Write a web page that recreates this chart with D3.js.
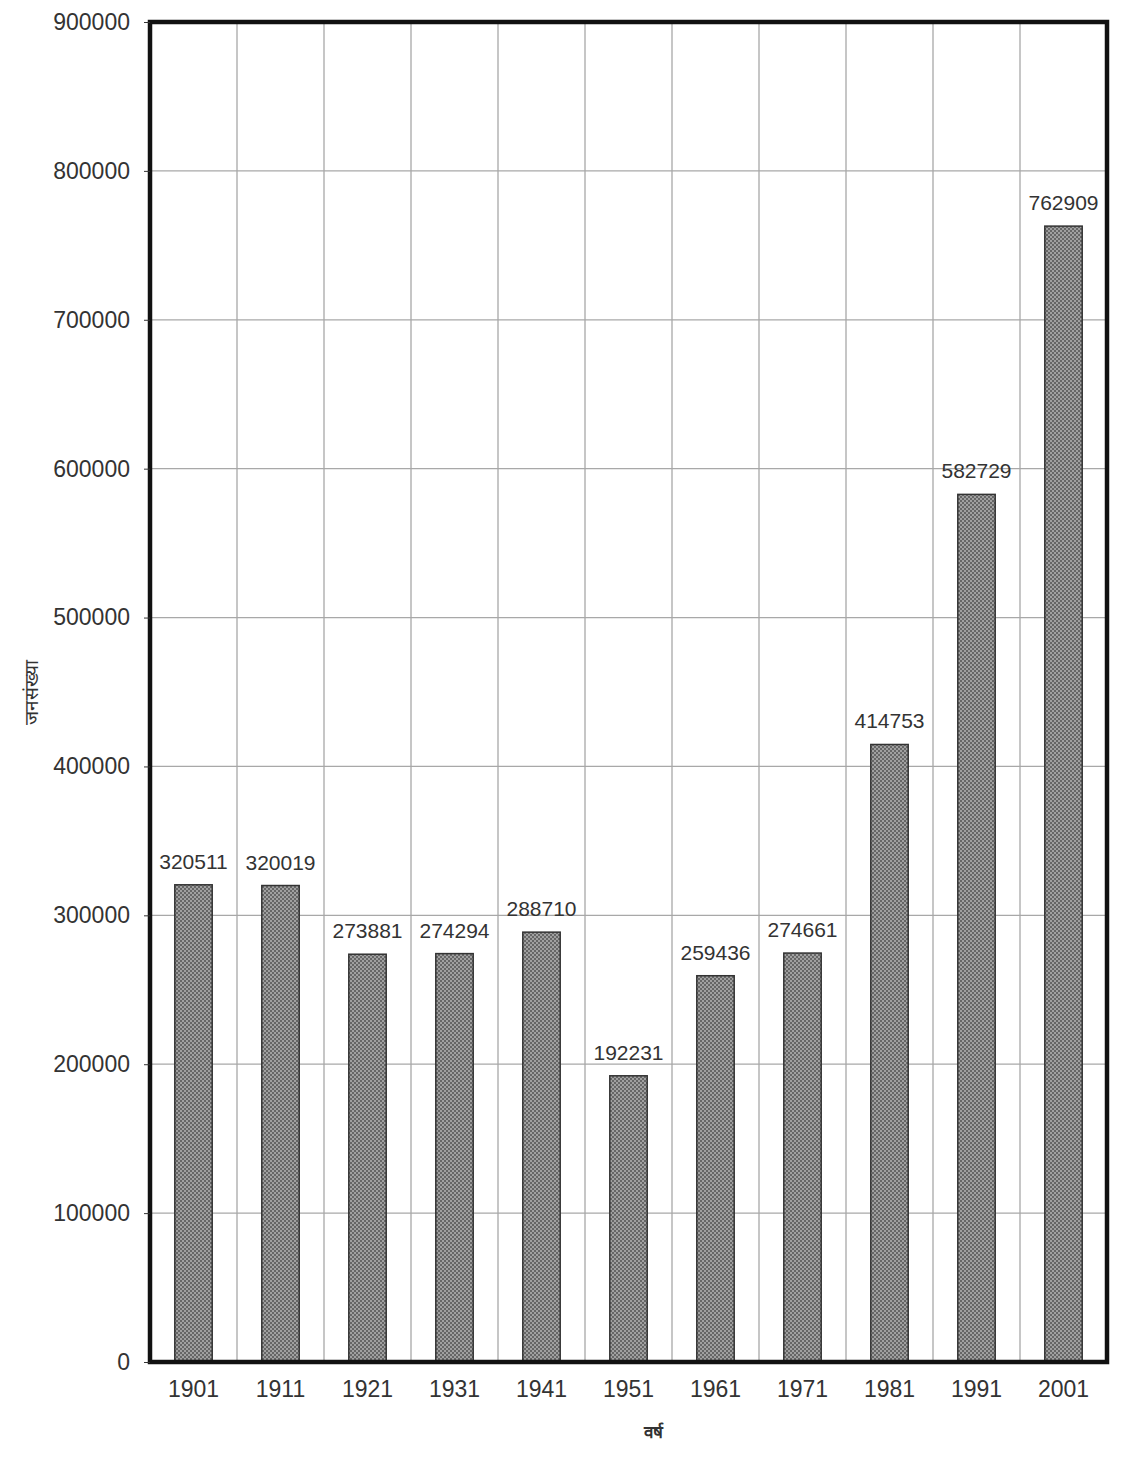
<!DOCTYPE html>
<html>
<head>
<meta charset="utf-8">
<script src="https://cdn.jsdelivr.net/npm/d3@7"></script>
<style>
  body { margin: 0; background: #fff; }
  svg { display: block; }
  text { font-family: "Liberation Sans", Arial, sans-serif; }
</style>
</head>
<body>
<svg id="chart" width="1130" height="1466"></svg>
<script>
const years = ["1901","1911","1921","1931","1941","1951","1961","1971","1981","1991","2001"];
const population = [320511, 320019, 273881, 274294, 288710, 192231, 259436, 274661, 414753, 582729, 762909];
const yTicks = [0,100000,200000,300000,400000,500000,600000,700000,800000,900000];
const xTitle = "वर्ष";
const yTitle = "जनसंख्या";

const svg = d3.select("#chart");
const m = {left: 150, top: 22, right: 1130 - 1107, bottom: 1466 - 1362};
const W = 1130 - m.left - m.right, H = 1466 - m.top - m.bottom;

const defs = svg.append("defs");
const pat = defs.append("pattern").attr("id","dots").attr("patternUnits","userSpaceOnUse")
  .attr("width",4).attr("height",4);
pat.append("rect").attr("width",4).attr("height",4).attr("fill","#a0a0a0");
pat.append("rect").attr("x",0).attr("y",0).attr("width",2).attr("height",2).attr("fill","#666");
pat.append("rect").attr("x",2).attr("y",2).attr("width",2).attr("height",2).attr("fill","#666");

const g = svg.append("g").attr("transform",`translate(${m.left},${m.top})`);

const x = d3.scaleBand().domain(years).range([0, W]).paddingInner(0.57).paddingOuter(0.285);
const xb = d3.scaleBand().domain(years).range([0, W]);
const y = d3.scaleLinear().domain([0, 900000]).range([H, 0]);

// horizontal gridlines
g.append("g").selectAll("line").data(yTicks).join("line")
  .attr("x1",0).attr("x2",W).attr("y1",d=>y(d)).attr("y2",d=>y(d))
  .attr("stroke","#a8a8a8").attr("stroke-width",1.3);
// vertical gridlines at category boundaries
g.append("g").selectAll("line").data(years.slice(1)).join("line")
  .attr("x1",d=>xb(d)).attr("x2",d=>xb(d)).attr("y1",0).attr("y2",H)
  .attr("stroke","#a8a8a8").attr("stroke-width",1.3);

// bars
g.append("g").selectAll("rect").data(years).join("rect")
  .attr("x",d=>x(d)).attr("width",x.bandwidth())
  .attr("y",(d,i)=>y(population[i])).attr("height",(d,i)=>H - y(population[i]))
  .attr("fill","url(#dots)").attr("stroke","#333").attr("stroke-width",1.5);

// value labels
g.append("g").selectAll("text").data(years).join("text")
  .attr("x",d=>x(d)+x.bandwidth()/2).attr("y",(d,i)=>y(population[i]) - 16)
  .attr("text-anchor","middle").attr("font-size",21).attr("fill","#333")
  .text((d,i)=>population[i]);

// frame
g.append("rect").attr("x",0).attr("y",0).attr("width",W).attr("height",H)
  .attr("fill","none").attr("stroke","#111").attr("stroke-width",4.5);

// y axis
const ya = d3.axisLeft(y).tickValues(yTicks).tickSize(6).tickPadding(14).tickFormat(d=>String(d));
const yg = g.append("g").call(ya);
yg.select(".domain").remove();
yg.selectAll("line").attr("stroke","#333");
yg.selectAll("text").attr("font-size",23).attr("fill","#333").attr("font-family","\"Liberation Sans\", Arial, sans-serif");

// x axis
const xa = d3.axisBottom(xb).tickSize(0).tickPadding(19);
const xg = g.append("g").attr("transform",`translate(0,${H})`).call(xa);
xg.select(".domain").remove();
xg.selectAll("text").attr("font-size",23).attr("fill","#333").attr("font-family","\"Liberation Sans\", Arial, sans-serif");

// titles
svg.append("text").attr("x", 653).attr("y", 1438).attr("text-anchor","middle")
  .attr("font-size",17).attr("font-weight","bold").attr("fill","#333")
  .attr("font-family","\"Noto Sans\", \"Noto Sans Devanagari\", sans-serif").text(xTitle);
svg.append("text").attr("transform","translate(38,692) rotate(-90)").attr("text-anchor","middle")
  .attr("font-size",19).attr("fill","#333")
  .attr("font-family","\"Noto Sans\", \"Noto Sans Devanagari\", sans-serif").text(yTitle);
</script>
</body>
</html>
